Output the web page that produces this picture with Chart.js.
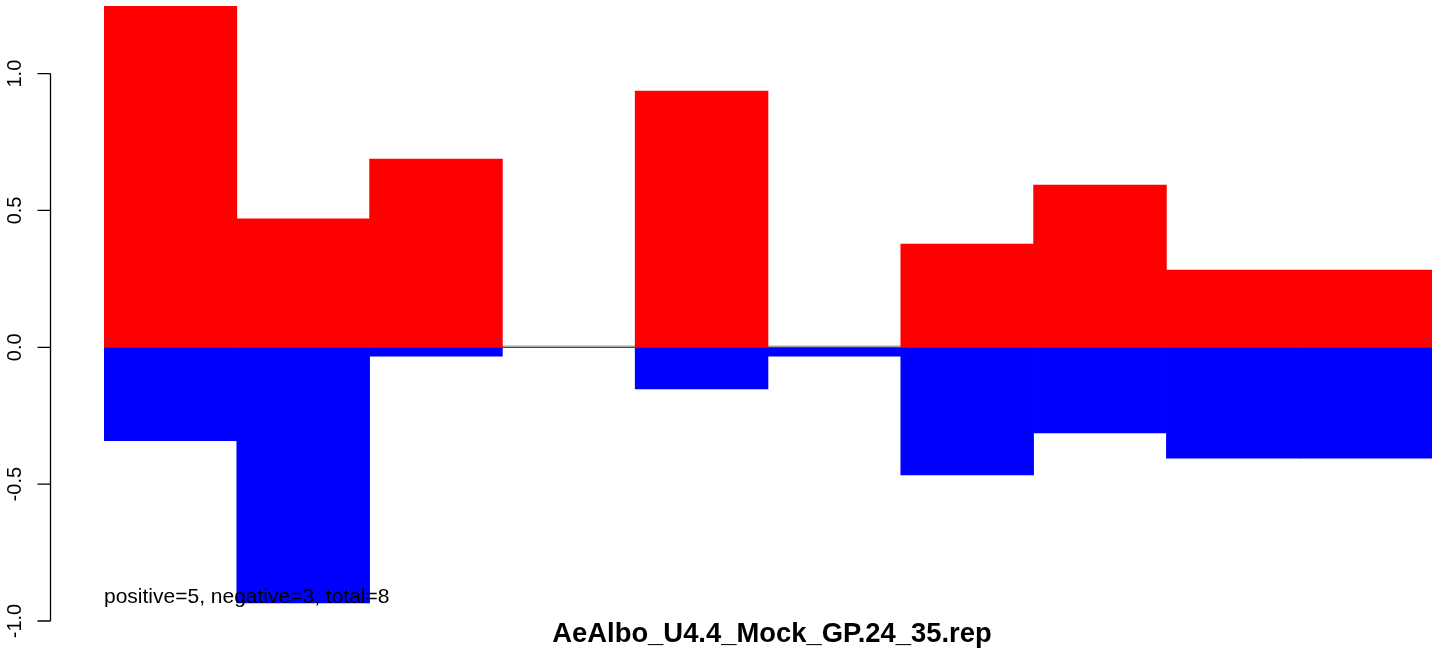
<!DOCTYPE html>
<html>
<head>
<meta charset="utf-8">
<title>AeAlbo_U4.4_Mock_GP.24_35.rep</title>
<script src="https://cdn.jsdelivr.net/npm/chart.js@4/dist/chart.umd.min.js"></script>
<style>
    html, body { margin: 0; padding: 0; background: #fff; }
    #chart { display: block; }
</style>
</head>
<body>
<canvas id="chart" width="1444" height="656"></canvas>
<script>
// Data
const categories = ['1', '2', '3', '4', '5', '6', '7', '8', '9', '10'];
const positiveValues = [1.247, 0.469, 0.688, 0, 0.936, 0, 0.377, 0.593, 0.282, 0.282];
const negativeValues = [-0.341, -0.934, -0.032, 0, -0.152, -0.032, -0.466, -0.313, -0.405, -0.405];
const yTicks = [-1, -0.5, 0, 0.5, 1];
const chartTitle = 'AeAlbo_U4.4_Mock_GP.24_35.rep';
const summaryText = 'positive=5, negative=3, total=8';

const fontFamily = '"Liberation Sans", Arial, Helvetica, sans-serif';

// Grey line at zero, under the bars
const zeroLine = {
    id: 'zeroLine',
    beforeDatasetsDraw: (chart) => {
        const { ctx, chartArea, scales } = chart;
        const y = Math.round(scales.y.getPixelForValue(0)) - 0.5;
        ctx.save();
        ctx.strokeStyle = '#a6a6a6';
        ctx.lineWidth = 2;
        ctx.beginPath();
        ctx.moveTo(chartArea.left, y);
        ctx.lineTo(chartArea.right, y);
        ctx.stroke();
        ctx.restore();
    }
};

// R style y axis, title and summary text
const rAxis = {
    id: 'rAxis',
    afterDraw: (chart) => {
        const { ctx, chartArea, scales } = chart;
        const yScale = scales.y;
        const axisX = 50.5;
        const tickLen = 13;

        ctx.save();
        ctx.strokeStyle = '#000';
        ctx.lineWidth = 1.3;
        ctx.beginPath();
        ctx.moveTo(axisX, yScale.getPixelForValue(yTicks[0]));
        ctx.lineTo(axisX, yScale.getPixelForValue(yTicks[yTicks.length - 1]));
        yTicks.forEach(v => {
            const y = yScale.getPixelForValue(v);
            ctx.moveTo(axisX, y);
            ctx.lineTo(axisX - tickLen, y);
        });
        ctx.stroke();

        // rotated tick labels
        ctx.fillStyle = '#000';
        ctx.font = '20px ' + fontFamily;
        ctx.textAlign = 'center';
        ctx.textBaseline = 'alphabetic';
        yTicks.forEach(v => {
            const y = yScale.getPixelForValue(v);
            ctx.save();
            ctx.translate(21, y);
            ctx.rotate(-Math.PI / 2);
            ctx.fillText(v.toFixed(1), 0, 0);
            ctx.restore();
        });

        // summary text
        ctx.textAlign = 'left';
        ctx.font = '21px ' + fontFamily;
        ctx.fillText(summaryText, chartArea.left, 603);

        // title below the plot
        ctx.textAlign = 'center';
        ctx.font = 'bold 27.4px ' + fontFamily;
        ctx.fillText(chartTitle, (chartArea.left + chartArea.right) / 2 + 4, 642);
        ctx.restore();
    }
};

const ctx = document.getElementById('chart').getContext('2d');

new Chart(ctx, {
    type: 'bar',
    data: {
        labels: categories,
        datasets: [
            {
                label: 'positive',
                data: positiveValues,
                backgroundColor: '#ff0000',
                borderWidth: 0
            },
            {
                label: 'negative',
                data: negativeValues,
                backgroundColor: '#0000ff',
                borderWidth: 0
            }
        ]
    },
    options: {
        responsive: false,
        animation: false,
        devicePixelRatio: 1,
        layout: { padding: { left: 104, right: 12, top: 6, bottom: 35 } },
        datasets: {
            bar: { barPercentage: 1, categoryPercentage: 1 }
        },
        scales: {
            x: { display: false, stacked: true },
            y: { display: false, stacked: true, min: -1, max: 1.247 }
        },
        plugins: {
            legend: { display: false },
            tooltip: { enabled: false }
        }
    },
    plugins: [zeroLine, rAxis]
});
</script>
</body>
</html>
